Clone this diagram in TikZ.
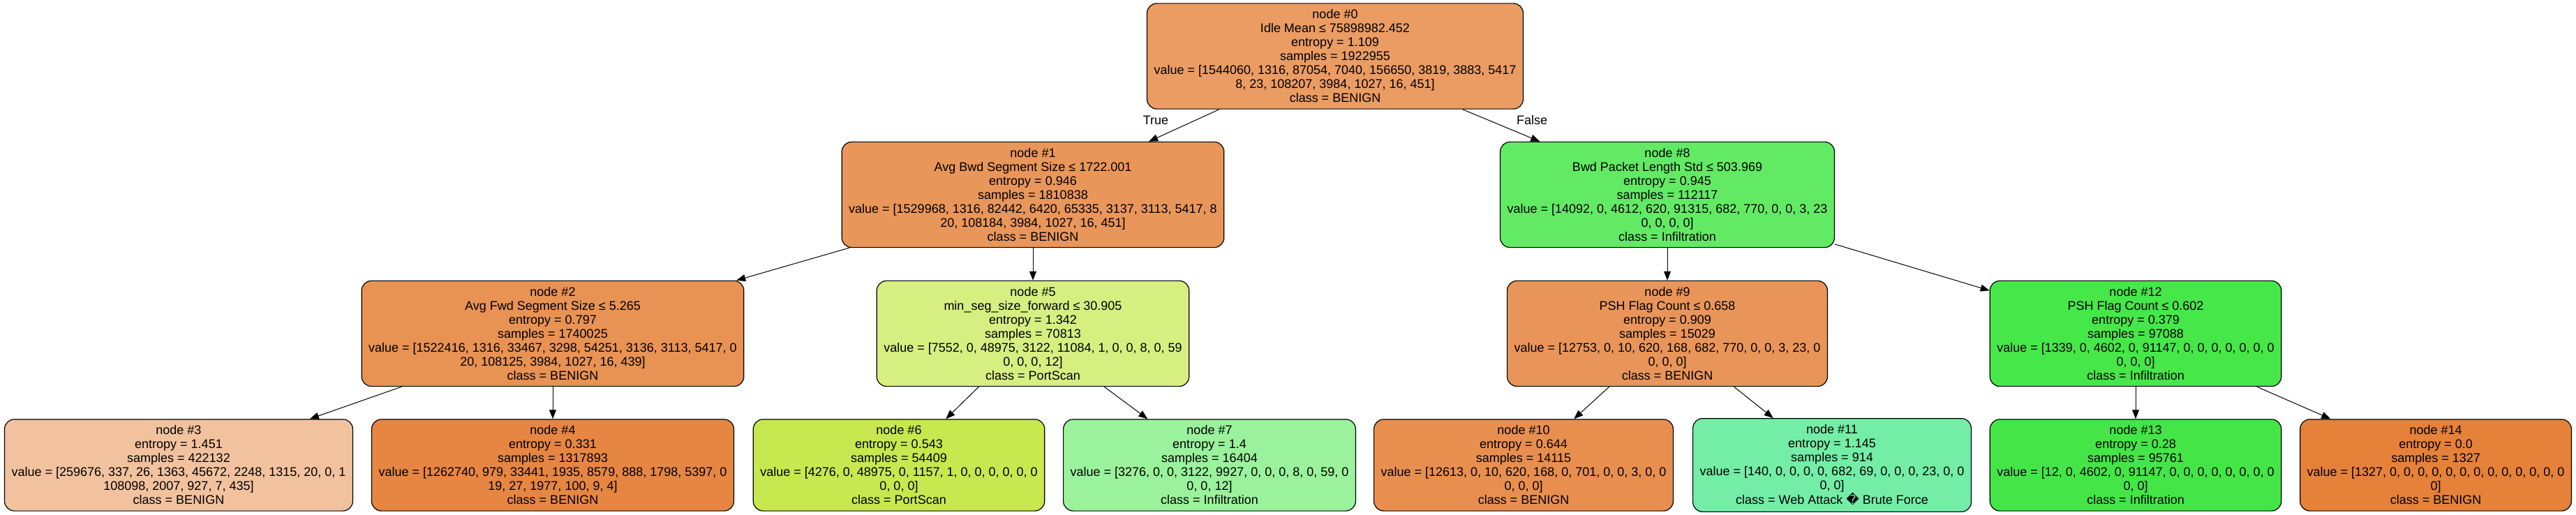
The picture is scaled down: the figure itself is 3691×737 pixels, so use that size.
\documentclass[tikz,border=0pt]{standalone}
\usepackage{fontspec}
\setmainfont{Liberation Sans}
\newfontfamily\symfont{DejaVu Sans}
\usetikzlibrary{arrows.meta}
\definecolor{col0}{RGB}{235,156,99}
\definecolor{col1}{RGB}{233,150,90}
\definecolor{col2}{RGB}{232,146,83}
\definecolor{col3}{RGB}{242,194,159}
\definecolor{col4}{RGB}{230,134,66}
\definecolor{col5}{RGB}{215,238,129}
\definecolor{col6}{RGB}{199,232,78}
\definecolor{col7}{RGB}{155,242,156}
\definecolor{col8}{RGB}{99,234,101}
\definecolor{col9}{RGB}{233,149,89}
\definecolor{col10}{RGB}{232,143,79}
\definecolor{col11}{RGB}{116,237,167}
\definecolor{col12}{RGB}{70,231,72}
\definecolor{col13}{RGB}{67,230,70}
\definecolor{col14}{RGB}{229,129,57}
\begin{document}
\begin{tikzpicture}[x=1pt, y=-1pt,
        main/.style = {draw, rounded corners=14pt, line width=1.2pt, align=center,
                       inner xsep=10pt, inner ysep=9pt, font=\fontsize{18}{20}\selectfont},
        lbl/.style = {font=\fontsize{18}{20}\selectfont},
        >={Triangle[length=13pt, width=10pt]}]
                    \useasboundingbox (0,0) rectangle (3691,737);

                    \node[main, fill=col0] (0) at (1913,80.5) {node \#0\\Idle Mean ≤ 75898982.452\\entropy = 1.109\\samples = 1922955\\value = [1544060, 1316, 87054, 7040, 156650, 3819, 3883, 5417\\8, 23, 108207, 3984, 1027, 16, 451]\\class = BENIGN};

                    \node[main, fill=col1] (1) at (1480,279) {node \#1\\Avg Bwd Segment Size ≤ 1722.001\\entropy = 0.946\\samples = 1810838\\value = [1529968, 1316, 82442, 6420, 65335, 3137, 3113, 5417, 8\\20, 108184, 3984, 1027, 16, 451]\\class = BENIGN};
                    \node[main, fill=col8] (8) at (2389,279) {node \#8\\Bwd Packet Length Std ≤ 503.969\\entropy = 0.945\\samples = 112117\\value = [14092, 0, 4612, 620, 91315, 682, 770, 0, 0, 3, 23\\0, 0, 0, 0]\\class = Infiltration};

                    \node[main, fill=col2] (2) at (792,478) {node \#2\\Avg Fwd Segment Size ≤ 5.265\\entropy = 0.797\\samples = 1740025\\value = [1522416, 1316, 33467, 3298, 54251, 3136, 3113, 5417, 0\\20, 108125, 3984, 1027, 16, 439]\\class = BENIGN};
                    \node[main, fill=col5] (5) at (1480,478) {node \#5\\min\_seg\_size\_forward ≤ 30.905\\entropy = 1.342\\samples = 70813\\value = [7552, 0, 48975, 3122, 11084, 1, 0, 0, 8, 0, 59\\0, 0, 0, 12]\\class = PortScan};
                    \node[main, fill=col9] (9) at (2389,478) {node \#9\\PSH Flag Count ≤ 0.658\\entropy = 0.909\\samples = 15029\\value = [12753, 0, 10, 620, 168, 682, 770, 0, 0, 3, 23, 0\\0, 0, 0]\\class = BENIGN};
                    \node[main, fill=col12] (12) at (3060,478) {node \#12\\PSH Flag Count ≤ 0.602\\entropy = 0.379\\samples = 97088\\value = [1339, 0, 4602, 0, 91147, 0, 0, 0, 0, 0, 0, 0\\0, 0, 0]\\class = Infiltration};

                    \node[main, fill=col3] (3) at (256,666.5) {node \#3\\entropy = 1.451\\samples = 422132\\value = [259676, 337, 26, 1363, 45672, 2248, 1315, 20, 0, 1\\108098, 2007, 927, 7, 435]\\class = BENIGN};
                    \node[main, fill=col4] (4) at (792,666.5) {node \#4\\entropy = 0.331\\samples = 1317893\\value = [1262740, 979, 33441, 1935, 8579, 888, 1798, 5397, 0\\19, 27, 1977, 100, 9, 4]\\class = BENIGN};
                    \node[main, fill=col6] (6) at (1288,666.5) {node \#6\\entropy = 0.543\\samples = 54409\\value = [4276, 0, 48975, 0, 1157, 1, 0, 0, 0, 0, 0, 0\\0, 0, 0]\\class = PortScan};
                    \node[main, fill=col7] (7) at (1733,666.5) {node \#7\\entropy = 1.4\\samples = 16404\\value = [3276, 0, 0, 3122, 9927, 0, 0, 0, 8, 0, 59, 0\\0, 0, 12]\\class = Infiltration};
                    \node[main, fill=col10] (10) at (2183,666.5) {node \#10\\entropy = 0.644\\samples = 14115\\value = [12613, 0, 10, 620, 168, 0, 701, 0, 0, 3, 0, 0\\0, 0, 0]\\class = BENIGN};
                    \node[main, fill=col11] (11) at (2625,666.5) {node \#11\\entropy = 1.145\\samples = 914\\value = [140, 0, 0, 0, 0, 682, 69, 0, 0, 0, 23, 0, 0\\0, 0]\\class = Web Attack {\symfont �} Brute Force};
                    \node[main, fill=col13] (13) at (3060,666.5) {node \#13\\entropy = 0.28\\samples = 95761\\value = [12, 0, 4602, 0, 91147, 0, 0, 0, 0, 0, 0, 0, 0\\0, 0]\\class = Infiltration};
                    \node[main, fill=col14] (14) at (3490,666.5) {node \#14\\entropy = 0.0\\samples = 1327\\value = [1327, 0, 0, 0, 0, 0, 0, 0, 0, 0, 0, 0, 0, 0\\0]\\class = BENIGN};

                    \node[lbl] (true) at (1656,172) {True};
                    \node[lbl] (false) at (2195,172) {False};

                    \draw[->, line width=1pt] (0) -- (1);
                    \draw[->, line width=1pt] (0) -- (8);
                    \draw[->, line width=1pt] (1) -- (2);
                    \draw[->, line width=1pt] (1) -- (5);
                    \draw[->, line width=1pt] (2) -- (3);
                    \draw[->, line width=1pt] (2) -- (4);
                    \draw[->, line width=1pt] (5) -- (6);
                    \draw[->, line width=1pt] (5) -- (7);
                    \draw[->, line width=1pt] (8) -- (9);
                    \draw[->, line width=1pt] (8) -- (12);
                    \draw[->, line width=1pt] (9) -- (10);
                    \draw[->, line width=1pt] (9) -- (11);
                    \draw[->, line width=1pt] (12) -- (13);
                    \draw[->, line width=1pt] (12) -- (14);
                \end{tikzpicture}
\end{document}
